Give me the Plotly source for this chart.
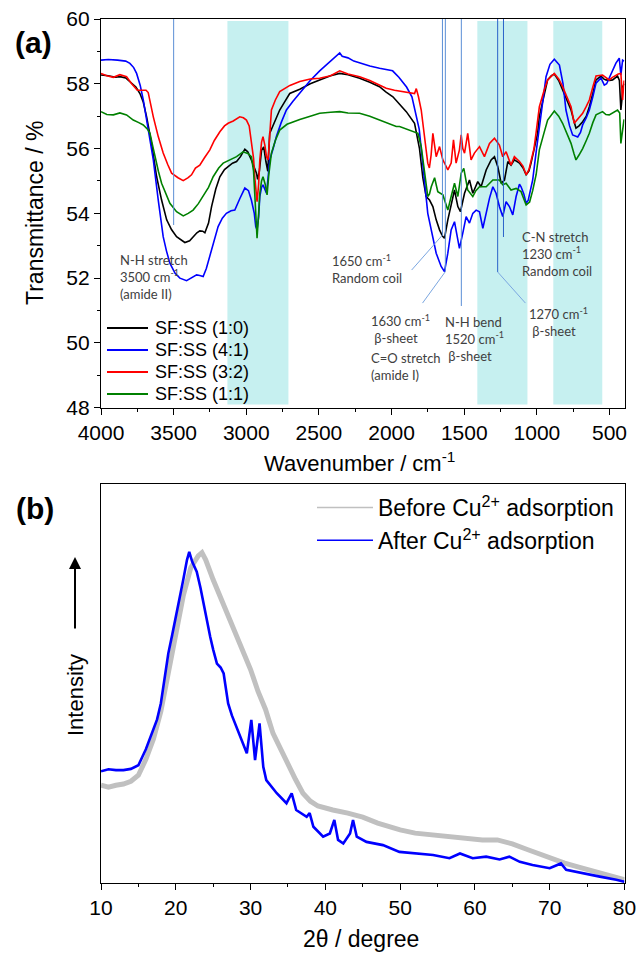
import plotly.graph_objects as go

# ---------------- FTIR spectra (wavenumber / cm-1, transmittance / %) ----------------
wn_10 = [4000, 3950, 3900, 3869, 3830, 3789, 3760, 3732, 3710, 3686, 3652, 3617, 3583, 3548, 3515,
         3480, 3423, 3390, 3366, 3340, 3320, 3300, 3285, 3260, 3239, 3210, 3182, 3150, 3125, 3095,
         3067, 3040, 3010, 2990, 2965, 2945, 2930, 2922, 2910, 2895, 2880, 2865, 2852, 2839, 2800,
         2770, 2735, 2701, 2632, 2560, 2495, 2420, 2357, 2300, 2220, 2150, 2083, 2040, 1991, 1950,
         1899, 1842, 1808, 1785, 1762, 1739, 1716, 1693, 1670, 1650, 1636, 1613, 1590, 1567, 1544,
         1526, 1498, 1464, 1441, 1407, 1384, 1349, 1315, 1292, 1269, 1246, 1223, 1200, 1178, 1155,
         1120, 1095, 1074, 1055, 1040, 1020, 995, 983, 950, 926, 900, 880, 850, 823, 795,
         765, 745, 731, 710, 685, 660, 639, 615, 593, 559, 540, 525, 500, 479, 460,
         445, 432, 422, 415, 410, 400]
t_10 = [58.27, 58.25, 58.20, 58.22, 58.18, 58.00, 57.90, 57.70, 57.45, 56.98, 56.16, 55.13, 54.41, 53.80, 53.50,
        53.28, 53.10, 53.15, 53.28, 53.40, 53.46, 53.45, 53.40, 53.70, 54.21, 54.75, 55.13, 55.35, 55.44, 55.55,
        55.60, 55.75, 55.98, 55.90, 55.65, 55.40, 55.24, 55.05, 55.30, 55.95, 56.05, 55.60, 55.30, 56.47, 56.90,
        57.19, 57.45, 57.70, 57.83, 58.00, 58.12, 58.25, 58.32, 58.28, 58.17, 58.05, 57.91, 57.75, 57.60, 57.40,
        57.14, 56.78, 56.00, 55.10, 54.52, 54.41, 54.21, 53.80, 53.49, 53.30, 53.23, 53.80, 54.31, 54.72, 54.21,
        54.05, 54.62, 55.03, 54.62, 54.98, 54.82, 55.34, 55.65, 55.75, 55.44, 54.93, 55.03, 55.60, 55.49, 55.65,
        55.55, 55.40, 55.19, 55.30, 55.55, 56.00, 56.47, 57.00, 57.70, 58.12, 58.25, 58.30, 58.10, 57.81, 57.50,
        57.19, 56.85, 56.63, 56.70, 56.83, 57.00, 57.29, 57.70, 58.12, 58.24, 58.15, 58.12, 58.10, 58.12, 58.20,
        58.24, 58.10, 57.19, 57.50, 57.90, 58.00]

wn_41 = [4000, 3950, 3886, 3830, 3801, 3775, 3755, 3730, 3709, 3675, 3640, 3606, 3572, 3550, 3526,
         3490, 3457, 3411, 3380, 3342, 3320, 3297, 3275, 3251, 3220, 3194, 3165, 3137, 3105, 3079,
         3045, 3010, 2985, 2965, 2945, 2935, 2926, 2915, 2907, 2895, 2885, 2872, 2861, 2850, 2839,
         2815, 2793, 2760, 2724, 2680, 2632, 2560, 2495, 2420, 2380, 2357, 2340, 2300, 2260, 2220,
         2150, 2083, 2040, 1993, 1950, 1897, 1860, 1830, 1810, 1796, 1773, 1760, 1751, 1739, 1727,
         1710, 1693, 1675, 1659, 1636, 1613, 1590, 1567, 1544, 1533, 1510, 1487, 1464, 1441, 1418,
         1395, 1372, 1349, 1326, 1303, 1281, 1258, 1235, 1212, 1189, 1166, 1143, 1120, 1109, 1090,
         1074, 1060, 1040, 1029, 1005, 983, 960, 937, 910, 880, 845, 820, 800, 775, 754,
         719, 700, 685, 660, 639, 615, 593, 559, 536, 520, 502, 480, 456, 433, 422,
         410, 400]
t_41 = [58.73, 58.75, 58.73, 58.70, 58.63, 58.50, 58.32, 57.95, 57.50, 56.57, 55.65, 54.41, 53.28, 52.85, 52.46,
        52.15, 52.00, 51.92, 52.00, 52.10, 52.08, 52.05, 52.30, 52.66, 53.15, 53.59, 53.85, 54.00, 54.08, 54.10,
        54.45, 54.78, 54.70, 54.41, 54.00, 53.59, 53.50, 53.90, 54.52, 54.80, 54.88, 54.75, 54.62, 55.10, 55.65,
        56.00, 56.37, 56.80, 57.19, 57.45, 57.70, 58.10, 58.40, 58.70, 58.85, 58.95, 58.85, 58.80, 58.70, 58.64,
        58.55, 58.48, 58.45, 58.40, 58.20, 57.90, 57.60, 57.00, 56.60, 56.00, 54.82, 54.40, 54.00, 53.75, 53.49,
        53.10, 52.77, 52.55, 52.36, 52.20, 52.77, 53.49, 53.74, 53.18, 52.92, 53.39, 53.90, 53.70, 54.00, 54.10,
        54.05, 53.54, 54.00, 54.47, 54.82, 54.62, 54.21, 53.90, 54.36, 54.21, 53.95, 54.52, 54.90, 54.82, 54.60,
        54.31, 54.40, 54.80, 55.03, 55.90, 56.68, 57.50, 58.22, 58.60, 58.76, 58.58, 58.00, 57.19, 56.70, 56.42,
        56.36, 56.50, 56.73, 56.95, 57.19, 57.60, 58.02, 58.18, 57.96, 58.00, 58.18, 58.40, 58.64, 58.79, 58.27,
        58.73, 58.70]

wn_32 = [4000, 3960, 3915, 3870, 3824, 3789, 3750, 3720, 3690, 3675, 3660, 3640, 3606, 3572, 3540,
         3514, 3470, 3434, 3400, 3377, 3350, 3320, 3290, 3251, 3220, 3182, 3150, 3125, 3090, 3045,
         3020, 2999, 2980, 2965, 2950, 2942, 2926, 2915, 2907, 2895, 2885, 2872, 2861, 2850, 2840,
         2827, 2800, 2770, 2700, 2632, 2560, 2495, 2420, 2357, 2300, 2220, 2150, 2083, 2037, 1980,
         1922, 1870, 1842, 1830, 1815, 1796, 1773, 1751, 1740, 1728, 1716, 1705, 1693, 1670, 1647,
         1630, 1613, 1590, 1574, 1556, 1533, 1521, 1510, 1498, 1476, 1453, 1430, 1395, 1361, 1326,
         1292, 1258, 1235, 1212, 1178, 1155, 1120, 1095, 1074, 1055, 1040, 1020, 1006, 983, 950,
         926, 880, 850, 823, 795, 765, 743, 720, 685, 660, 639, 615, 593, 548, 525,
         502, 480, 456, 440, 422, 415, 410, 400]
t_32 = [58.32, 58.25, 58.20, 58.28, 58.22, 58.00, 57.80, 57.79, 57.80, 57.73, 57.40, 56.98, 56.37, 55.86, 55.50,
        55.24, 55.10, 55.01, 55.10, 55.19, 55.40, 55.49, 55.70, 55.96, 56.25, 56.52, 56.70, 56.78, 56.85, 56.98,
        56.95, 56.88, 56.70, 56.27, 55.70, 55.13, 54.36, 54.90, 55.65, 56.20, 56.37, 56.10, 55.75, 55.65, 56.50,
        57.19, 57.50, 57.76, 57.95, 58.07, 58.15, 58.17, 58.25, 58.40, 58.30, 58.22, 58.10, 57.95, 57.86, 57.80,
        57.76, 57.72, 57.70, 57.85, 57.60, 57.19, 56.27, 55.55, 55.40, 55.80, 56.47, 56.10, 55.75, 56.06, 55.65,
        55.50, 55.34, 55.55, 56.27, 55.55, 55.96, 56.42, 56.00, 55.86, 56.47, 55.65, 55.86, 56.06, 55.75, 56.16,
        56.32, 56.11, 55.75, 55.90, 55.49, 55.75, 55.60, 55.45, 55.19, 55.35, 55.65, 56.00, 56.47, 57.29, 57.80,
        58.12, 58.32, 58.15, 57.91, 57.60, 57.29, 56.78, 56.90, 57.09, 57.30, 57.50, 57.90, 58.24, 58.27, 58.20,
        58.12, 58.20, 58.27, 58.30, 58.32, 57.60, 57.50, 58.10]

wn_11 = [4000, 3960, 3915, 3870, 3824, 3800, 3778, 3740, 3709, 3680, 3663, 3645, 3629, 3605, 3583,
         3555, 3526, 3480, 3434, 3400, 3366, 3330, 3297, 3260, 3228, 3190, 3159, 3110, 3067, 3022,
         2990, 2965, 2950, 2942, 2926, 2915, 2907, 2895, 2885, 2870, 2857, 2845, 2827, 2800, 2770,
         2720, 2678, 2632, 2560, 2495, 2420, 2357, 2300, 2220, 2150, 2083, 2030, 1968, 1945, 1877,
         1819, 1796, 1773, 1757, 1751, 1739, 1727, 1704, 1693, 1682, 1647, 1613, 1590, 1567, 1544,
         1521, 1503, 1476, 1441, 1420, 1395, 1349, 1303, 1258, 1235, 1212, 1178, 1143, 1109, 1074,
         1050, 1029, 1005, 983, 950, 926, 880, 850, 823, 790, 765, 745, 731, 710, 685,
         660, 639, 615, 593, 548, 525, 502, 475, 445, 430, 422, 415, 410, 400]
t_11 = [57.14, 57.05, 57.04, 57.10, 57.04, 56.95, 56.88, 56.80, 56.73, 56.60, 56.47, 56.10, 55.75, 55.30, 54.93,
        54.60, 54.31, 54.05, 53.92, 54.00, 54.10, 54.30, 54.52, 54.80, 55.13, 55.40, 55.55, 55.65, 55.75, 55.90,
        55.85, 55.75, 55.30, 54.62, 53.23, 54.00, 54.62, 55.00, 55.13, 54.90, 54.57, 55.20, 55.86, 56.25, 56.57,
        56.75, 56.83, 56.90, 57.00, 57.09, 57.12, 57.14, 57.10, 57.09, 57.00, 56.88, 56.80, 56.68, 56.68, 56.57,
        56.47, 56.06, 55.24, 54.72, 54.52, 54.60, 54.82, 55.10, 54.90, 54.67, 54.57, 54.10, 54.52, 54.93, 54.52,
        55.24, 55.39, 54.72, 54.52, 54.70, 54.82, 54.82, 55.03, 55.03, 54.88, 54.93, 54.72, 54.77, 54.67, 54.26,
        54.35, 54.70, 55.20, 55.96, 56.50, 56.88, 57.16, 57.00, 56.78, 56.45, 56.16, 55.85, 55.65, 55.80, 56.00,
        56.25, 56.47, 56.80, 57.04, 57.14, 57.05, 57.04, 57.10, 57.19, 57.10, 56.16, 56.40, 56.60, 56.90]

ftir_names = ["SF:SS (1:0)", "SF:SS (4:1)", "SF:SS (3:2)", "SF:SS (1:1)"]
ftir_colors = ["#000000", "#0000ff", "#ff0000", "#008000"]

# highlighted wavenumber regions (cm-1)
band_lo = [2710, 1065, 550]
band_hi = [3130, 1410, 887]

# assigned band positions (cm-1) and where each marker line stops (transmittance %)
marker_wn = [3500, 1650, 1630, 1520, 1270, 1230]
marker_end = [53.64, 53.33, 52.20, 51.14, 52.19, 53.27]
marker_color = ["#5b8fd6", "#5b8fd6", "#5b8fd6", "#5b8fd6", "#2a62c9", "#2a62c9"]

# ---------------- XRD patterns (2theta / degree, relative intensity) ----------------
tt_before = [10, 11, 12, 13, 14, 15, 16, 17, 18, 19, 20, 21, 22, 23, 23.5,
             24, 25, 26, 27, 28, 29, 30, 31, 32, 33, 34, 35, 36, 37, 38,
             39, 40, 41, 43, 45, 47, 50, 52, 55, 58, 61, 63, 65, 67, 70,
             72, 74, 76.7, 79, 80]
int_before = [24.5, 24.0, 24.5, 24.8, 25.5, 27.0, 31.0, 36.0, 43.0, 53.0, 63.0, 72.0, 79.0, 82.0, 82.8,
              81.0, 76.0, 71.5, 67.0, 63.0, 58.5, 53.5, 48.0, 43.5, 37.5, 33.5, 30.0, 26.0, 22.5, 20.5,
              19.3, 18.7, 18.3, 17.5, 16.5, 15.0, 13.3, 12.5, 12.0, 11.3, 10.8, 10.8, 9.8, 8.4, 6.2,
              5.0, 3.9, 2.4, 1.2, 0.8]

tt_after = [10, 11, 12, 13, 14, 15, 16, 17, 17.5, 18, 18.5, 19, 19.5, 20, 20.5,
            21, 21.5, 21.8, 22.2, 22.8, 23.3, 23.7, 24.2, 24.6, 25, 25.5, 26, 26.4, 26.6, 27,
            27.5, 28, 28.6, 29, 29.5, 30.1, 30.6, 31.2, 31.7, 32.1, 33, 33.5, 34.8, 35.5, 36.1,
            37, 37.5, 37.9, 38.4, 39.7, 40.6, 41.2, 41.7, 42.4, 43.3, 43.7, 44.2, 45.5, 47.7, 49.9,
            52.2, 54.4, 56.6, 58, 59.7, 61.5, 63.3, 64.6, 66, 67.7, 70, 71.5, 72.2, 74.4, 76.7,
            78.9, 80]
int_after = [28.0, 28.5, 28.3, 28.3, 28.6, 29.5, 33.5, 38.5, 41.0, 45.0, 51.0, 57.5, 62.0, 66.5, 71.0,
             76.0, 81.0, 83.0, 80.5, 78.0, 74.0, 70.0, 65.5, 61.7, 58.5, 55.0, 54.0, 52.5, 50.0, 45.0,
             42.0, 39.5, 36.7, 35.0, 32.5, 40.9, 30.8, 40.0, 29.1, 25.8, 23.5, 22.5, 20.0, 22.5, 18.3,
             17.2, 16.6, 17.5, 14.1, 11.6, 12.4, 15.8, 10.8, 9.9, 12.4, 15.8, 11.6, 10.3, 9.5, 7.8,
             7.4, 7.0, 6.2, 7.4, 6.2, 6.6, 5.9, 6.6, 5.3, 4.5, 3.7, 4.9, 3.3, 2.4, 1.6,
             0.8, 0.3]

W, H = 638, 956


def px(x):
    return x / W


def py(y):
    return 1 - y / H


AX_FONT = "Liberation Sans, Arial, sans-serif"
NOTE_FONT = "Lato, Noto Sans, sans-serif"
NOTE_COLOR = "#404040"

fig = go.Figure()

for wn, tr, name, col in zip([wn_10, wn_41, wn_32, wn_11], [t_10, t_41, t_32, t_11],
                             ftir_names, ftir_colors):
    fig.add_trace(go.Scatter(x=wn, y=tr, mode="lines", name=name, showlegend=False,
                             line=dict(color=col, width=1.6), xaxis="x", yaxis="y"))

# XRD: noisy patterns shown as broad lines; legend uses thin proxies
fig.add_trace(go.Scatter(x=tt_before, y=int_before, mode="lines", showlegend=False,
                         line=dict(color="#c0c0c0", width=5), xaxis="x2", yaxis="y2"))
fig.add_trace(go.Scatter(x=tt_after, y=int_after, mode="lines", showlegend=False,
                         line=dict(color="#0000ff", width=2.6), xaxis="x2", yaxis="y2"))
fig.add_trace(go.Scatter(x=[None], y=[None], mode="lines", name="Before Cu<sup>2+</sup> adsorption",
                         line=dict(color="#c0c0c0", width=1.5), xaxis="x2", yaxis="y2", legend="legend2"))
fig.add_trace(go.Scatter(x=[None], y=[None], mode="lines", name="After Cu<sup>2+</sup> adsorption",
                         line=dict(color="#0000ff", width=1.5), xaxis="x2", yaxis="y2", legend="legend2"))

shapes = []
for lo, hi in zip(band_lo, band_hi):
    shapes.append(dict(type="rect", xref="x", yref="y", x0=hi, x1=lo, y0=48.1, y1=59.94,
                       fillcolor="#c6f0f0", line=dict(width=0), layer="below"))
for w, e, c in zip(marker_wn, marker_end, marker_color):
    shapes.append(dict(type="line", xref="x", yref="y", x0=w, x1=w, y0=60, y1=e,
                       line=dict(color=c, width=1)))
# leader lines from marker ends to their labels
leaders = [(1650, 53.33, 1862, 52.25), (1630, 52.20, 1787, 51.23), (1270, 52.19, 1079, 51.23)]
for x0, y0, x1, y1 in leaders:
    shapes.append(dict(type="line", xref="x", yref="y", x0=x0, y0=y0, x1=x1, y1=y1,
                       line=dict(color="#7aa6e0", width=1)))

annotations = []

# key for the FTIR panel: short line swatch + series name per row
key_rows = [328, 350, 372, 394]
for name, col, row in zip(ftir_names, ftir_colors, key_rows):
    shapes.append(dict(type="line", xref="paper", yref="paper", x0=px(107), x1=px(148),
                       y0=py(row), y1=py(row), line=dict(color=col, width=1.8)))
    annotations.append(dict(text=name, xref="paper", yref="paper", x=px(153), y=py(row),
                            xanchor="left", yanchor="middle", showarrow=False,
                            font=dict(family=AX_FONT, size=18, color="black")))

notes = [
    ("N-H stretch<br>3500 cm<sup>-1</sup><br>(amide II)", 118, 250),
    ("1650 cm<sup>-1</sup><br>Random coil", 330, 250),
    ("1630 cm<sup>-1</sup><br>\u00a0β-sheet", 369, 310),
    ("C=O stretch<br>(amide I)", 369, 348),
    ("N-H bend<br>1520 cm<sup>-1</sup><br>\u00a0β-sheet", 443, 312),
    ("1270 cm<sup>-1</sup><br>\u00a0β-sheet", 527, 303),
    ("C-N stretch<br>1230 cm<sup>-1</sup><br>Random coil", 520, 227),
]
for txt, x, y in notes:
    annotations.append(dict(text=txt, xref="paper", yref="paper", x=px(x), y=py(y),
                            xanchor="left", yanchor="top", align="left", showarrow=False,
                            font=dict(family=NOTE_FONT, size=13, color=NOTE_COLOR)))

annotations += [
    dict(text="<b>(a)</b>", xref="paper", yref="paper", x=px(33), y=py(43), showarrow=False,
         xanchor="center", yanchor="middle", font=dict(family=AX_FONT, size=30, color="black")),
    dict(text="<b>(b)</b>", xref="paper", yref="paper", x=px(35), y=py(508), showarrow=False,
         xanchor="center", yanchor="middle", font=dict(family=AX_FONT, size=30, color="black")),
    dict(text="Transmittance / %", xref="paper", yref="paper", x=px(35), y=py(213), textangle=-90,
         showarrow=False, xanchor="center", yanchor="middle",
         font=dict(family=AX_FONT, size=23, color="black")),
    dict(text="Wavenumber / cm<sup>-1</sup>", xref="paper", yref="paper", x=px(360), y=py(462),
         showarrow=False, xanchor="center", yanchor="middle",
         font=dict(family=AX_FONT, size=22, color="black")),
    dict(text="Intensity", xref="paper", yref="paper", x=px(75), y=py(695), textangle=-90,
         showarrow=False, xanchor="center", yanchor="middle",
         font=dict(family=AX_FONT, size=22, color="black")),
    dict(text="2θ / degree", xref="paper", yref="paper", x=px(361), y=py(939),
         showarrow=False, xanchor="center", yanchor="middle",
         font=dict(family=AX_FONT, size=23, color="black")),
    dict(text="", xref="paper", yref="paper", x=px(75), y=py(557), ax=0, ay=73,
         axref="pixel", ayref="pixel", showarrow=True, arrowhead=2, arrowsize=1.2,
         arrowwidth=2, arrowcolor="black"),
]

axis_common = dict(showline=True, linecolor="black", linewidth=1.3, mirror=True,
                   ticks="outside", ticklen=6, tickwidth=1.3, tickcolor="black",
                   showgrid=False, zeroline=False, automargin=False,
                   tickfont=dict(family=AX_FONT, size=21, color="black"))

fig.update_layout(
    width=W, height=H,
    margin=dict(l=0, r=0, t=0, b=0, pad=0, autoexpand=False),
    paper_bgcolor="white", plot_bgcolor="white",
    xaxis=dict(domain=[px(101), px(624.5)], range=[4000, 397], anchor="y",
               tickmode="linear", tick0=500, dtick=500,
               minor=dict(ticks="outside", ticklen=3, dtick=250, tick0=500, tickcolor="black"),
               **axis_common),
    yaxis=dict(domain=[py(407.7), py(19)], range=[48, 60], anchor="x",
               tickmode="linear", tick0=48, dtick=2,
               minor=dict(ticks="outside", ticklen=3, dtick=1, tickcolor="black"),
               **axis_common),
    xaxis2=dict(domain=[px(101), px(624.5)], range=[10, 80], anchor="y2",
                tickmode="linear", tick0=10, dtick=10,
                minor=dict(ticks="outside", ticklen=3, dtick=5, tickcolor="black"),
                **axis_common),
    yaxis2=dict(domain=[py(883), py(484)], range=[0, 100], anchor="x2",
                showline=True, linecolor="black", linewidth=1.3, mirror=True, automargin=False,
                ticks="", showticklabels=False, showgrid=False, zeroline=False),
    legend2=dict(x=px(312), y=py(486), xanchor="left", yanchor="top",
                 bgcolor="rgba(0,0,0,0)", borderwidth=0, itemwidth=56, tracegroupgap=0,
                 font=dict(family=AX_FONT, size=23, color="black")),
    shapes=shapes,
    annotations=annotations,
)

fig.write_html("out.html")
